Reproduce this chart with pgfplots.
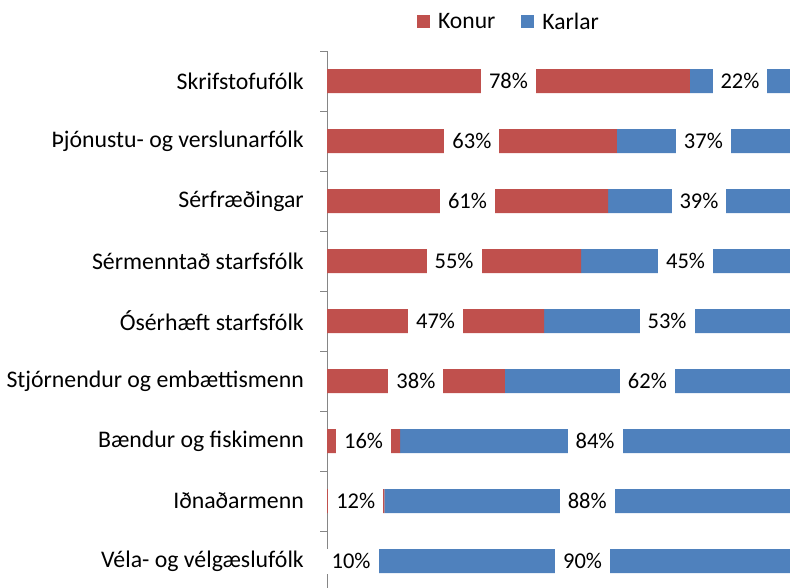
\documentclass[border=0pt]{standalone}
\usepackage{pgfplots}
\pgfplotsset{compat=1.18}
\usepackage{pgfplotstable}
\usepackage{fontspec}
\setmainfont{Carlito}
\definecolor{konur}{HTML}{C0504D}
\definecolor{karlar}{HTML}{4F81BD}
\definecolor{axgray}{HTML}{868686}
\pgfplotstableread{
y k m
8 78.4 21.6
7 62.6 37.4
6 60.7 39.3
5 54.9 45.1
4 46.9 53.1
3 38.4 61.6
2 15.8 84.2
1 12.4 87.6
0 10.4 89.6
}\data
\begin{document}
\begin{tikzpicture}
\begin{axis}[
  at={(327pt,-591pt)}, anchor=south west,
  scale only axis, width=463pt, height=540pt,
  xbar stacked, bar width=24pt,
  xmin=0, xmax=100, ymin=-0.5, ymax=8.5,
  axis x line=none, axis y line*=left,
  ytick={0,...,8},
  yticklabels={Véla- og vélgæslufólk, Iðnaðarmenn, Bændur og fiskimenn, Stjórnendur og embættismenn, Ósérhæft starfsfólk, Sérmenntað starfsfólk, Sérfræðingar, Þjónustu- og verslunarfólk, Skrifstofufólk},
  minor ytick={-0.5,0.5,...,8.5},
  major tick length=0pt, minor tick length=7pt, tick align=outside,
  axis line style={draw=axgray, line width=1pt},
  tick style={draw=axgray, line width=1pt},
  yticklabel style={font=\fontsize{23.8}{25}\selectfont, inner sep=0pt, xshift=-23pt, anchor=east},
  /pgf/number format/assume math mode=true,
  nodes near coords={\pgfmathprintnumber[fixed,precision=0,assume math mode=true]{\pgfplotspointmeta}\%},
  every node near coord/.append style={anchor=center, fill=white, text=black, inner xsep=8pt, inner ysep=0pt, minimum height=25pt, font=\fontsize{22.5}{22.5}\selectfont},
  legend style={draw=none, at={(0.393,1.054)}, anchor=center, font=\fontsize{23.6}{25}\selectfont, /tikz/every even column/.append style={column sep=24pt}},
  legend columns=2,
  legend image code/.code={\fill[#1] (0pt,-6.5pt) rectangle (13pt,6.5pt);},
]
\addplot[fill=konur, draw=none, point meta=\thisrow{k}] table[x=k,y=y]{\data};
\addlegendentry{\hspace{6pt}Konur}
\addplot[fill=karlar, draw=none, point meta=\thisrow{m}] table[x=m,y=y]{\data};
\addlegendentry{\hspace{6pt}Karlar}
\end{axis}
\pgfresetboundingbox
\path (0,0) rectangle (790pt,-587pt);
\end{tikzpicture}
\end{document}
